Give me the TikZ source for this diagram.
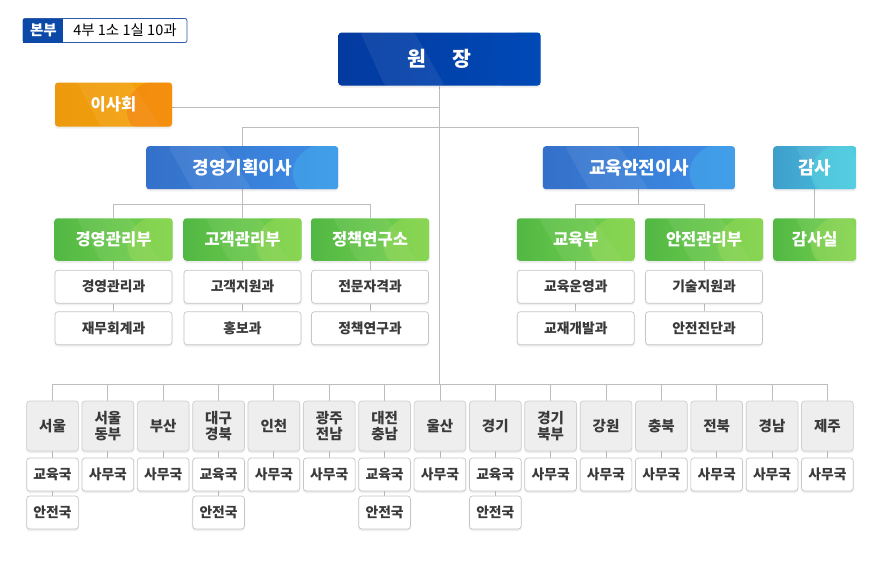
\documentclass[tikz,border=0pt]{standalone}
\usepackage{fontspec}
\setmainfont{Noto Sans CJK KR}
\usetikzlibrary{shadows.blur,backgrounds,calc}
\definecolor{linegray}{HTML}{BDBDBD}
\definecolor{badgeblue}{HTML}{0B48A8}
\definecolor{badgeline}{HTML}{2D5CA8}
\definecolor{wonL}{HTML}{033AA0}
\definecolor{wonR}{HTML}{0049B6}
\definecolor{orL}{HTML}{EC990F}
\definecolor{orR}{HTML}{F7A404}
\definecolor{orC}{HTML}{F2701A}
\definecolor{blL}{HTML}{3470C9}
\definecolor{blR}{HTML}{3E8EE7}
\definecolor{blC}{HTML}{48B8EE}
\definecolor{cyL}{HTML}{3D9FCA}
\definecolor{cyR}{HTML}{4CC2E2}
\definecolor{cyC}{HTML}{52DCE0}
\definecolor{grL}{HTML}{52B844}
\definecolor{grR}{HTML}{78D24D}
\definecolor{grC}{HTML}{A2DC5C}
\definecolor{regfill}{HTML}{EEEEEE}
\definecolor{regline}{HTML}{CFCFCF}
\definecolor{subline}{HTML}{C6C6C6}
\definecolor{txtdark}{HTML}{3A3A3A}
\tikzset{
  conn/.style={draw=linegray, line width=0.9pt},
  shd/.style={blur shadow={shadow xshift=0pt, shadow yshift=-1.5pt, shadow blur radius=1.5pt, shadow blur steps=4, shadow opacity=10}},
  deco/.style={path picture={
      \fill[white, opacity=0.07] ($(path picture bounding box.north west)+(22,0)$) -- ($(path picture bounding box.north west)+(76,0)$) -- ($(path picture bounding box.south west)+(106,0)$) -- ($(path picture bounding box.south west)+(46,0)$) -- cycle;
      \fill[#1, opacity=0.4] ($(path picture bounding box.south east)+(-40,0)$) .. controls ($(path picture bounding box.south east)+(-50,-18)$) and ($(path picture bounding box.north east)+(-44,10)$) .. ($(path picture bounding box.north east)+(-26,0)$) -- (path picture bounding box.north east) -- (path picture bounding box.south east) -- cycle;
    }},
  colbox/.style={rectangle, rounded corners=3pt, inner sep=0pt, align=center, text=white, shd},
  wonbox/.style={colbox, minimum width=202pt, minimum height=53pt, left color=wonL, right color=wonR, deco=wonR, font=\bfseries\fontsize{20.5}{24}\selectfont},
  orbox/.style={colbox, minimum width=117pt, minimum height=44pt, left color=orL, right color=orR, deco=orC, font=\bfseries\fontsize{16.5}{18}\selectfont},
  blbox/.style={colbox, minimum width=192pt, minimum height=43pt, left color=blL, right color=blR, deco=blC, font=\bfseries\fontsize{18}{20}\selectfont},
  cybox/.style={colbox, minimum width=83pt, minimum height=43pt, left color=cyL, right color=cyR, deco=cyC, font=\bfseries\fontsize{18}{20}\selectfont},
  grbox/.style={colbox, minimum width=118pt, minimum height=42.5pt, left color=grL, right color=grR, deco=grC, font=\bfseries\fontsize{16.5}{18}\selectfont},
  grsmall/.style={grbox, minimum width=83pt},
  subbox/.style={rectangle, rounded corners=3pt, inner sep=0pt, draw=subline, line width=0.7pt, fill=white, shd, minimum width=117pt, minimum height=33pt, text=txtdark, font=\bfseries\fontsize{13.8}{15}\selectfont},
  regbox/.style={rectangle, rounded corners=3pt, inner sep=0pt, draw=regline, line width=0.7pt, fill=regfill, shd, minimum width=51.7pt, minimum height=50pt, align=center, text=txtdark, font=\bfseries\fontsize{14.5}{15.5}\selectfont},
  subsm/.style={subbox, minimum width=51.7pt},
  badgeL/.style={rectangle, inner sep=0pt, fill=badgeblue, minimum width=40pt, minimum height=24pt, text=white, font=\bfseries\fontsize{14.5}{16}\selectfont},
  badgeR/.style={rectangle, rounded corners=2pt, inner sep=0pt, draw=badgeline, line width=0.8pt, fill=white, minimum width=164pt, minimum height=24pt, text=black, font=\fontsize{14.5}{16}\selectfont},
}
\begin{document}
\begin{tikzpicture}[x=1pt,y=-1pt]
\useasboundingbox (0,0) rectangle (880,571);
% badge
\node[badgeR] (badge) at (105,30.5) {\hspace*{40pt}4부 1소 1실 10과};
\node[badgeL] (bonbu) at (43.4,30.5) {본부};
% top
\node[wonbox] (won) at (439.5,59) {원\hspace{1.3em}장};
\node[orbox] (isa) at (113.5,104.5) {이사회};
\node[blbox] (kyeong) at (242.2,167.7) {경영기획이사};
\node[blbox] (gyoan) at (638.9,167.7) {교육안전이사};
\node[cybox] (gamsa) at (814.7,167.7) {감사};
% green row
\node[grbox] (g1) at (113.5,239.5) {경영관리부};
\node[grbox] (g2) at (242.5,239.5) {고객관리부};
\node[grbox] (g3) at (370,239.5) {정책연구소};
\node[grbox] (g4) at (575.8,239.5) {교육부};
\node[grbox] (g5) at (704,239.5) {안전관리부};
\node[grsmall] (g6) at (814.7,239.5) {감사실};
% sub rows
\node[subbox] (a1) at (113.5,286.7) {경영관리과};
\node[subbox] (b1) at (113.5,328.2) {재무회계과};
\node[subbox] (a2) at (242.5,286.7) {고객지원과};
\node[subbox] (b2) at (242.5,328.2) {홍보과};
\node[subbox] (a3) at (370,286.7) {전문자격과};
\node[subbox] (b3) at (370,328.2) {정책연구과};
\node[subbox] (a4) at (575.8,286.7) {교육운영과};
\node[subbox] (b4) at (575.8,328.2) {교재개발과};
\node[subbox] (a5) at (704,286.7) {기술지원과};
\node[subbox] (b5) at (704,328.2) {안전진단과};
% regions
\foreach \i/\nm/\n in {0/서울/2, 1/{서울\\동부}/1, 2/부산/1, 3/{대구\\경북}/2, 4/인천/1, 5/{광주\\전남}/1, 6/{대전\\충남}/2, 7/울산/1, 8/경기/2, 9/{경기\\북부}/1, 10/강원/1, 11/충북/1, 12/전북/1, 13/경남/1, 14/제주/1}{
  \pgfmathsetmacro\xx{52.5+55.35*\i}
  \node[regbox] (r\i) at (\xx,426) {\nm};
  \ifnum\n=2
    \node[subsm] (s\i) at (\xx,474.5) {교육국};
    \node[subsm] (t\i) at (\xx,512.5) {안전국};
  \else
    \node[subsm] (s\i) at (\xx,474.5) {사무국};
  \fi
}
\coordinate (busB) at (0,384.3);
\coordinate (busA) at (0,127.3);
\coordinate (isaY) at (0,107.8);
\begin{scope}[on background layer]
  \draw[conn] (won.south) -- (won.south |- busB);
  \draw[conn] (isa.east |- isaY) -- (won.south |- isaY);
  \draw[conn] (kyeong.north) -- (kyeong.north |- busA) -- (gyoan.north |- busA) -- (gyoan.north);
  \draw[conn] (gamsa.south) -- (g6.north);
  \draw[conn] (kyeong.south) -- (kyeong.south |- 0,204.5);
  \draw[conn] (g1.north) -- (g1.north |- 0,204.5) -- (g3.north |- 0,204.5) -- (g3.north);
  \draw[conn] (g2.north) -- (g2.north |- 0,204.5);
  \draw[conn] (gyoan.south) -- (gyoan.south |- 0,204.5);
  \draw[conn] (g4.north) -- (g4.north |- 0,204.5) -- (g5.north |- 0,204.5) -- (g5.north);
  \foreach \k in {1,...,5}{
    \draw[conn] (g\k.south) -- (a\k.north);
    \draw[conn] (a\k.south) -- (b\k.north);
  }
  \draw[conn] (r0.north |- busB) -- (r14.north |- busB);
  \foreach \i in {0,...,14}{
    \draw[conn] (r\i.north) -- (r\i.north |- busB);
    \draw[conn] (r\i.south) -- (s\i.north);
  }
  \foreach \i in {0,3,6,8}{
    \draw[conn] (s\i.south) -- (t\i.north);
  }
\end{scope}
\end{tikzpicture}
\end{document}
